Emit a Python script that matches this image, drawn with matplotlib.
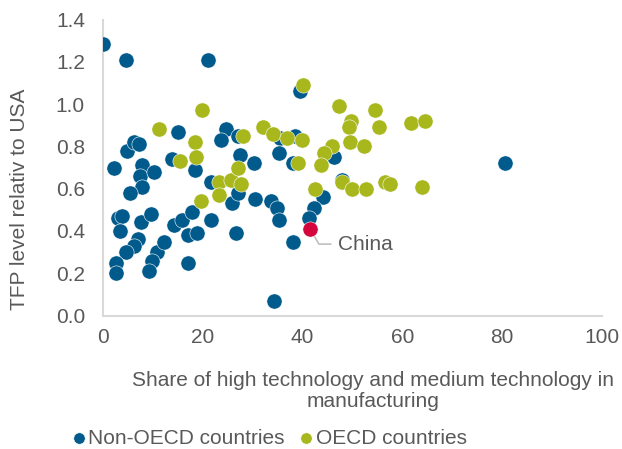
import matplotlib
matplotlib.use("Agg")
import matplotlib.pyplot as plt

plt.rcParams["font.family"] = ["Liberation Sans", "DejaVu Sans"]

# share of high/medium tech in manufacturing (%) vs TFP level relative to USA
non_oecd_share = [0.0, 4.6, 21.0, 39.5, 80.6, 2.2, 4.8, 6.2, 7.2, 7.8, 7.4, 7.8,
                  10.2, 5.4, 15.0, 13.8, 18.4, 21.6, 24.6, 23.6, 27.1, 27.5, 30.3,
                  35.5, 38.5, 35.3, 38.1, 46.3, 47.9, 44.1, 42.3, 41.3, 38.1, 34.3,
                  26.7, 25.9, 27.1, 30.5, 33.7, 34.9, 35.3, 21.6, 17.0, 18.8, 14.2,
                  15.8, 17.8, 17.0, 10.8, 12.2, 9.8, 9.2, 3.0, 3.8, 3.4, 7.6, 9.6,
                  7.0, 6.2, 4.6, 2.6, 2.6]
non_oecd_tfp = [1.285, 1.21, 1.21, 1.06, 0.72, 0.70, 0.78, 0.82, 0.81, 0.71, 0.66, 0.61,
                0.68, 0.58, 0.87, 0.74, 0.69, 0.63, 0.88, 0.83, 0.85, 0.76, 0.72,
                0.84, 0.85, 0.77, 0.72, 0.75, 0.64, 0.56, 0.51, 0.46, 0.35, 0.07,
                0.39, 0.53, 0.58, 0.55, 0.54, 0.51, 0.45, 0.45, 0.38, 0.39, 0.43,
                0.45, 0.49, 0.25, 0.30, 0.35, 0.26, 0.21, 0.46, 0.47, 0.40, 0.44, 0.48,
                0.36, 0.33, 0.30, 0.25, 0.20]

oecd_share = [11.2, 19.8, 18.4, 18.6, 15.4, 23.2, 25.7, 27.7, 23.2, 19.6, 27.1, 40.1,
              32.1, 34.1, 36.9, 39.9, 39.1, 47.3, 49.7, 49.3, 49.5, 52.3, 45.9, 44.3,
              43.7, 42.5, 47.9, 49.9, 52.7, 54.5, 55.3, 61.7, 64.5, 56.5, 57.5, 63.9,
              28.1]
oecd_tfp = [0.88, 0.97, 0.82, 0.75, 0.73, 0.63, 0.64, 0.62, 0.57, 0.54, 0.70, 1.09,
            0.89, 0.86, 0.84, 0.83, 0.72, 0.99, 0.92, 0.89, 0.82, 0.80, 0.80, 0.77,
            0.71, 0.60, 0.63, 0.60, 0.60, 0.97, 0.89, 0.91, 0.92, 0.63, 0.62, 0.61,
            0.85]

china_share = 41.5
china_tfp = 0.41

blue = "#005a8b"
green = "#a8b71c"
red = "#d4053d"
grey = "#595959"
fs = 15

fig = plt.figure(figsize=(6.22, 4.49), dpi=100)
ax = fig.add_axes([103 / 622, 1 - 315.5 / 449, 499 / 622, 296 / 449])

ax.scatter(non_oecd_share, non_oecd_tfp, s=120, color=blue, edgecolors="white",
           linewidths=0.4, label="Non-OECD countries", zorder=3)
ax.scatter(oecd_share, oecd_tfp, s=120, color=green, edgecolors="white",
           linewidths=0.4, label="OECD countries", zorder=3)
ax.scatter([china_share], [china_tfp], s=120, color=red, edgecolors="white",
           linewidths=0.4, zorder=4)
ax.annotate("China", xy=(china_share, china_tfp), xytext=(20, -11),
            textcoords="offset points", fontsize=fs, color=grey, va="center",
            arrowprops=dict(arrowstyle="-", color="#bfbfbf", lw=1.2,
                            shrinkA=3, shrinkB=0,
                            connectionstyle="angle,angleA=180,angleB=-60,rad=0"))

ax.set_xlim(0, 100)
ax.set_ylim(0, 1.4)
ax.set_xticks(range(0, 101, 20))
ax.set_yticks([i / 10 for i in range(0, 15, 2)])
ax.yaxis.set_major_formatter(matplotlib.ticker.FormatStrFormatter("%.1f"))
ax.tick_params(length=0, labelsize=fs, labelcolor=grey)
ax.tick_params(axis="x", pad=9)
ax.tick_params(axis="y", pad=13)
for side in ["top", "right"]:
    ax.spines[side].set_visible(False)
for side in ["left", "bottom"]:
    ax.spines[side].set_color("#d9d9d9")
    ax.spines[side].set_linewidth(1.5)

fig.text(373 / 622, 1 - 391 / 449,
         "Share of high technology and medium technology in\nmanufacturing",
         ha="center", va="center", fontsize=fs, color=grey, linespacing=1.15)
fig.text(20 / 622, 1 - 199 / 449, "TFP level relativ to USA", rotation=90,
         ha="center", va="center", fontsize=fs, color=grey)

leg = fig.legend(loc="center", bbox_to_anchor=(268 / 622, 1 - 438 / 449), ncol=2,
                 frameon=False, fontsize=fs, handletextpad=0.0, columnspacing=0.6,
                 markerscale=0.75, handlelength=0.9)
for t in leg.get_texts():
    t.set_color(grey)

fig.savefig("out.png", dpi=100)
